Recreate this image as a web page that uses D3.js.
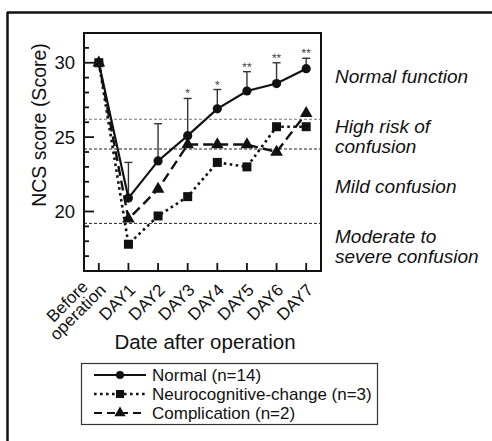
<!DOCTYPE html>
<html><head><meta charset="utf-8">
<script src="https://cdn.jsdelivr.net/npm/d3@7"></script>
<style>
body{margin:0;background:#fff;}
svg{display:block;font-family:"Liberation Sans",Arial,Helvetica,sans-serif;}
</style></head>
<body><svg id="c" width="492" height="441"></svg>
<script>
const categories = ["Before operation","DAY1","DAY2","DAY3","DAY4","DAY5","DAY6","DAY7"];
const normal     = [30, 20.9, 23.4, 25.1, 26.9, 28.1, 28.6, 29.6];
const normalSD   = [null, 23.3, 25.9, 27.6, 28.2, 29.4, 30.0, 30.3];
const normalSig  = ["", "", "", "*", "*", "**", "**", "**"];
const neuro      = [30, 17.8, 19.7, 21.0, 23.3, 23.0, 25.7, 25.7];
const complication = [30, 19.5, 21.5, 24.5, 24.5, 24.5, 24.0, 26.6];
const thresholds = [26.2, 24.2, 19.2];
const zoneLabels = [["Normal function"],["High risk of","confusion"],["Mild confusion"],["Moderate to","severe confusion"]];
const yTicks = d3.range(16, 33, 1);
const yLabelTicks = [20, 25, 30];
const legendNames = ["Normal (n=14)","Neurocognitive-change (n=3)","Complication (n=2)"];

const svg = d3.select("#c");
const L = 84, R = 321, T = 33, B = 271;
const x = d3.scalePoint().domain(categories).range([L, R]).padding(0.5);
const y = d3.scaleLinear().domain([16, 32]).range([B, T]);

// outer frame (top + left)
svg.append("line").attr("x1",7).attr("x2",492).attr("y1",12.5).attr("y2",12.5).attr("stroke","#111").attr("stroke-width",2.5);
svg.append("line").attr("x1",7.5).attr("x2",7.5).attr("y1",12).attr("y2",441).attr("stroke","#111").attr("stroke-width",2.5);

// threshold lines
svg.selectAll(".thr").data(thresholds).enter().append("line")
  .attr("x1",L).attr("x2",R).attr("y1",d=>y(d)).attr("y2",d=>y(d))
  .attr("stroke",(d,i)=>i===0?"#777":"#222").attr("stroke-width",1).attr("stroke-dasharray","3,2");

// y axis ticks (inward)
const yAx = svg.append("g").attr("transform",`translate(${L},0)`);
yAx.selectAll("line").data(yTicks).enter().append("line")
  .attr("x1",0).attr("x2",d=>yLabelTicks.includes(d)?10:5)
  .attr("y1",d=>y(d)).attr("y2",d=>y(d)).attr("stroke","#111").attr("stroke-width",1.8);
yAx.selectAll("text").data(yLabelTicks).enter().append("text")
  .attr("x",-9).attr("y",d=>y(d)).attr("dy","0.36em").attr("text-anchor","end")
  .attr("font-size",18.5).attr("fill","#111").text(d=>d);

// x axis ticks (inward)
const xAx = svg.append("g");
xAx.selectAll("line").data(categories).enter().append("line")
  .attr("x1",d=>x(d)).attr("x2",d=>x(d)).attr("y1",B).attr("y2",B-8)
  .attr("stroke","#111").attr("stroke-width",1.8);

// category labels rotated
const catFont = 17;
categories.forEach((c,i)=>{
  const g = svg.append("g").attr("transform",`translate(${x(c)+8},${B+20}) rotate(-45)`);
  if(c.includes(" ")){
    const parts = c.split(" ");
    const t2 = g.append("text").attr("text-anchor","end").attr("font-size",catFont).attr("fill","#111").text(parts[1]);
    const w = t2.node().getComputedTextLength();
    g.append("text").attr("text-anchor","middle").attr("x",-w/2).attr("y",-15).attr("font-size",catFont).attr("fill","#111").text(parts[0]);
  } else {
    g.append("text").attr("text-anchor","end").attr("font-size",catFont).attr("fill","#111").text(c);
  }
});

// plot frame
svg.append("rect").attr("x",L).attr("y",T).attr("width",R-L).attr("height",B-T)
  .attr("fill","none").attr("stroke","#111").attr("stroke-width",2);

// error bars
const eb = svg.append("g").attr("stroke","#333").attr("stroke-width",1.4);
categories.forEach((c,i)=>{
  if(normalSD[i]==null) return;
  eb.append("line").attr("x1",x(c)).attr("x2",x(c)).attr("y1",y(normal[i])).attr("y2",y(normalSD[i]));
  eb.append("line").attr("x1",x(c)-4).attr("x2",x(c)+4).attr("y1",y(normalSD[i])).attr("y2",y(normalSD[i]));
  if(normalSig[i]) svg.append("text").attr("x",x(c)).attr("y",y(normalSD[i])-1).attr("text-anchor","middle")
    .attr("font-size",12).attr("fill","#444").style("text-rendering","geometricPrecision").text(normalSig[i]);
});

const line = d3.line().x((d,i)=>x(categories[i])).y(d=>y(d));
function sym(type,size){return d3.symbol().type(type).size(size)();}

// complication
svg.append("path").datum(complication).attr("d",line).attr("fill","none").attr("stroke","#111")
  .attr("stroke-width",2.4).attr("stroke-dasharray","10,5");
svg.selectAll(".tri").data(complication).enter().append("path")
  .attr("transform",(d,i)=>`translate(${x(categories[i])},${y(d)})`).attr("d",sym(d3.symbolTriangle,70)).attr("fill","#111");

// normal
svg.append("path").datum(normal).attr("d",line).attr("fill","none").attr("stroke","#111").attr("stroke-width",2.2);
svg.selectAll(".cir").data(normal).enter().append("circle")
  .attr("cx",(d,i)=>x(categories[i])).attr("cy",d=>y(d)).attr("r",4.6).attr("fill","#111");

// neuro
svg.append("path").datum(neuro).attr("d",line).attr("fill","none").attr("stroke","#111")
  .attr("stroke-width",2.6).attr("stroke-dasharray","2.6,3.4");
svg.selectAll(".sq").data(neuro).enter().append("rect")
  .attr("x",(d,i)=>x(categories[i])-4.5).attr("y",d=>y(d)-4.5).attr("width",9).attr("height",9).attr("fill","#111");

// zone labels
const zoneY = [83, 133, 193, 243];
zoneLabels.forEach((lines,i)=>{
  lines.forEach((t,j)=>{
    svg.append("text").attr("x",335).attr("y",zoneY[i]+j*19.5).attr("font-size",19)
      .attr("font-style","italic").attr("fill","#111").text(t);
  });
});

// axis titles
svg.append("text").attr("transform",`translate(46,125) rotate(-90)`).attr("text-anchor","middle")
  .attr("font-size",19.5).attr("fill","#111").text("NCS score (Score)");
svg.append("text").attr("x",205).attr("y",349).attr("text-anchor","middle")
  .attr("font-size",20.5).attr("fill","#111").text("Date after operation");

// legend
const lg = svg.append("g");
lg.append("rect").attr("x",81.5).attr("y",363.5).attr("width",296).attr("height",61)
  .attr("fill","none").attr("stroke","#333").attr("stroke-width",1.2);
const styles = [{dash:null,w:2.2,m:"c"},{dash:"2.6,3.4",w:2.6,m:"s"},{dash:"8,5",w:2.2,m:"t"}];
legendNames.forEach((n,i)=>{
  const yy = 375 + i*19;
  lg.append("line").attr("x1",94).attr("x2",146).attr("y1",yy).attr("y2",yy).attr("stroke","#111")
    .attr("stroke-width",styles[i].w).attr("stroke-dasharray",styles[i].dash);
  if(styles[i].m==="c") lg.append("circle").attr("cx",120).attr("cy",yy).attr("r",4).attr("fill","#111");
  if(styles[i].m==="s") lg.append("rect").attr("x",116).attr("y",yy-4).attr("width",8).attr("height",8).attr("fill","#111");
  if(styles[i].m==="t") lg.append("path").attr("transform",`translate(120,${yy})`).attr("d",sym(d3.symbolTriangle,55)).attr("fill","#111");
  lg.append("text").attr("x",152).attr("y",yy).attr("dy","0.36em").attr("font-size",17).attr("fill","#111").text(n);
});
</script></body></html>
